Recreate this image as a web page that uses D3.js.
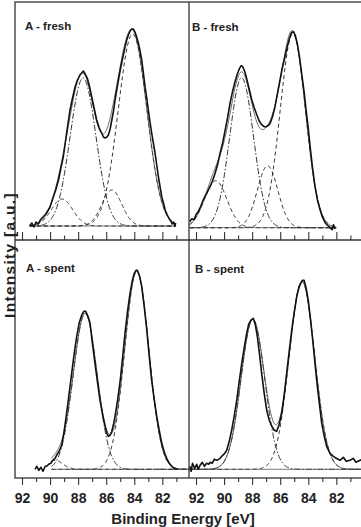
<!DOCTYPE html>
<html>
<head>
<meta charset="utf-8">
<script src="https://cdnjs.cloudflare.com/ajax/libs/d3/7.8.5/d3.min.js"></script>
<style>
body { margin: 0; background: #fff; }
text { font-family: "Liberation Sans", Arial, sans-serif; font-weight: bold; fill: #222; }
</style>
</head>
<body>
<script>
var w = 361;
var h = 527;

var majorTicks = [92, 90, 88, 86, 84, 82];
var minorTicks = [91, 89, 87, 85, 83, 81];
var panelLabels = ["A - fresh", "B - fresh", "A - spent", "B - spent"];
var xTitle = "Binding Energy [eV]";
var yTitle = "Intensity [a.u.]";

// measured spectra: binding energy [eV] and intensity above background [a.u.]
var aFreshE = [91.45, 91.3, 91.15, 91.0, 90.85, 90.7, 90.5, 90.3, 90.0, 89.77, 89.6, 89.4, 89.2, 89.06,
  88.82, 88.58, 88.4, 88.22, 88.05, 87.87, 87.75, 87.63, 87.5, 87.35, 87.2, 87.03, 86.85, 86.68,
  86.5, 86.32, 86.2, 86.08, 85.95, 85.85, 85.72, 85.6, 85.48, 85.37, 85.25, 85.13, 85.0, 84.9,
  84.78, 84.66, 84.54, 84.42, 84.3, 84.18, 84.06, 83.95, 83.83, 83.71, 83.59, 83.47, 83.35, 83.23,
  83.1, 83.0, 82.88, 82.76, 82.64, 82.52, 82.4, 82.28, 82.16, 82.04, 81.9, 81.8, 81.65, 81.5,
  81.4, 81.3, 81.2, 81.1, 81.05];
var aFreshI = [0, 3, -1, 4, 2, 6, 9, 12, 19, 29, 36, 46, 60, 69,
  93, 116, 128, 139, 146, 151, 153, 155, 152, 148, 140, 129, 117, 106,
  98, 93, 89, 88, 89, 91, 97, 106, 115, 126, 136, 146, 156, 163,
  171, 179, 186, 191, 195, 197, 197, 194, 189, 183, 175, 166, 153, 139,
  127, 116, 104, 93, 83, 73, 61, 49, 39, 29, 22, 16, 11, 7,
  5, 2, 4, 0, 3];

var bFreshE = [92.45, 92.3, 92.15, 92.0, 91.85, 91.7, 91.48, 91.25, 91.0, 90.85, 90.65, 90.45, 90.29,
  90.1, 89.93, 89.75, 89.58, 89.4, 89.22, 89.05, 88.91, 88.78, 88.67, 88.52, 88.39, 88.2, 88.03,
  87.85, 87.67, 87.5, 87.32, 87.15, 87.01, 86.87, 86.73, 86.55, 86.37, 86.2, 86.01, 85.85, 85.66,
  85.5, 85.35, 85.2, 85.06, 84.92, 84.78, 84.62, 84.47, 84.3, 84.16, 84.0, 83.87, 83.7, 83.52,
  83.35, 83.16, 83.0, 82.8, 82.6, 82.45, 82.3, 82.2, 82.09];
var bFreshI = [6, 9, 8, 13, 16, 20, 28, 34, 41, 46, 54, 64, 74,
  85, 97, 110, 124, 136, 146, 154, 159, 162, 161, 156, 149, 138, 128,
  120, 113, 107, 103, 101, 101, 102, 104, 111, 121, 134, 148, 160, 171,
  181, 189, 195, 196, 192, 184, 170, 154, 136, 118, 99, 81, 60, 41,
  28, 18, 11, 5, 2, 0, -2, 3, -1];

var aSpentE = [91.07, 90.95, 90.8, 90.65, 90.5, 90.35, 90.24, 90.1, 89.95, 89.8, 89.65, 89.5, 89.35,
  89.17, 89.0, 88.82, 88.64, 88.46, 88.28, 88.1, 87.93, 87.75, 87.6, 87.46, 87.3, 87.15, 87.0,
  86.8, 86.62, 86.44, 86.26, 86.08, 85.95, 85.85, 85.72, 85.6, 85.48, 85.37, 85.18, 85.0, 84.83,
  84.66, 84.48, 84.3, 84.15, 84.0, 83.88, 83.78, 83.62, 83.47, 83.3, 83.11, 82.94, 82.76, 82.58,
  82.4, 82.22, 82.04, 81.86, 81.69, 81.5, 81.33, 81.15, 80.97];
var aSpentI = [0, 3, -1, 2, -2, 3, 3, 5, 6, 9, 11, 15, 18,
  24, 38, 56, 76, 96, 116, 133, 146, 154, 158, 158, 153, 146, 128,
  106, 87, 69, 55, 43, 36, 33, 34, 38, 45, 53, 70, 89, 112,
  136, 158, 176, 188, 196, 199, 199, 193, 183, 164, 140, 114, 89, 70,
  53, 39, 26, 17, 11, 6, 3, 1, 0];

var bSpentE = [92.45, 92.35, 92.25, 92.1, 91.95, 91.85, 91.71, 91.55, 91.4, 91.25, 91.1, 91.0, 90.85,
  90.7, 90.5, 90.29, 90.1, 89.95, 89.81, 89.65, 89.46, 89.28, 89.1, 88.92, 88.74, 88.56, 88.39,
  88.25, 88.1, 87.92, 87.78, 87.63, 87.48, 87.32, 87.15, 86.96, 86.78, 86.6, 86.42, 86.25, 86.07,
  85.89, 85.72, 85.54, 85.36, 85.18, 85.0, 84.82, 84.68, 84.54, 84.42, 84.3, 84.15, 84.0, 83.84,
  83.68, 83.54, 83.4, 83.22, 83.04, 82.86, 82.69, 82.45, 82.21, 82.0, 81.74, 81.5, 81.3, 81.02,
  80.8, 80.6, 80.3, 80.15];
var bSpentI = [3, -2, 6, 1, 5, 0, 4, 7, 3, 6, 5, 7, 6,
  10, 9, 11, 14, 16, 19, 27, 39, 53, 69, 88, 106, 122, 136,
  145, 149, 151, 145, 133, 116, 96, 77, 59, 49, 43, 39, 38, 45,
  56, 74, 96, 118, 139, 157, 173, 181, 186, 189, 189, 181, 169, 150,
  129, 109, 89, 67, 46, 33, 23, 16, 13, 11, 9, 12, 8, 9,
  11, 7, 9, 10];

// fitted components: centre [eV], height [a.u.], sigma [eV], assignment
var aFreshCentre = [89.15, 87.65, 85.6, 84.12];
var aFreshHeight = [27, 148, 36, 192];
var aFreshSigma = [0.76, 0.92, 0.71, 1.02];
var aFreshPeak = ["4f5/2 (ii)", "4f5/2", "4f7/2 (ii)", "4f7/2"];
var aFreshBackground = 1;
var aFreshFitRange = [91.45, 81.05];

var bFreshCentre = [90.6, 88.75, 86.9, 85.1];
var bFreshHeight = [47, 150, 62, 194];
var bFreshSigma = [0.8, 0.85, 0.73, 0.9];
var bFreshPeak = ["4f5/2 (ii)", "4f5/2", "4f7/2 (ii)", "4f7/2"];
var bFreshBackground = -0.7;
var bFreshFitRange = [92.45, 82.0];

var aSpentCentre = [89.65, 87.5, 83.82];
var aSpentHeight = [9, 156, 198];
var aSpentSigma = [0.55, 0.85, 0.86];
var aSpentPeak = ["4f5/2 (ii)", "4f5/2", "4f7/2"];
var aSpentBackground = 0;
var aSpentFitRange = [89.9, 80.1];

var bSpentCentre = [87.95, 84.45];
var bSpentHeight = [150, 188];
var bSpentSigma = [0.84, 0.9];
var bSpentPeak = ["4f5/2", "4f7/2"];
var bSpentBackground = 0;
var bSpentFitRange = [92.45, 80.1];

// layout
var frame = {left: 15, mid: 189, right: 363, top: 2, split: 240, bottom: 478};
var eDomain = [92.5, 80.1];

var svg = d3.select("body")
  .append("svg")
  .attr("width", w)
  .attr("height", h);

var yTopRow = d3.scaleLinear().domain([-13, 225]).range([frame.split, frame.top]);
var yBottomRow = d3.scaleLinear().domain([-8.7, 229.3]).range([frame.bottom, frame.split]);
var xLeft = d3.scaleLinear().domain(eDomain).range([frame.left, frame.mid]);
var xRight = d3.scaleLinear().domain(eDomain).range([frame.mid, frame.right]);

var panels = [
  {label: panelLabels[0], E: aFreshE, I: aFreshI, c: aFreshCentre, a: aFreshHeight, s: aFreshSigma,
   p: aFreshPeak, bg: aFreshBackground, fit: aFreshFitRange, x: xLeft, y: yTopRow, lx: 25, ly: 29.5},
  {label: panelLabels[1], E: bFreshE, I: bFreshI, c: bFreshCentre, a: bFreshHeight, s: bFreshSigma,
   p: bFreshPeak, bg: bFreshBackground, fit: bFreshFitRange, x: xRight, y: yTopRow, lx: 192, ly: 31},
  {label: panelLabels[2], E: aSpentE, I: aSpentI, c: aSpentCentre, a: aSpentHeight, s: aSpentSigma,
   p: aSpentPeak, bg: aSpentBackground, fit: aSpentFitRange, x: xLeft, y: yBottomRow, lx: 26, ly: 272},
  {label: panelLabels[3], E: bSpentE, I: bSpentI, c: bSpentCentre, a: bSpentHeight, s: bSpentSigma,
   p: bSpentPeak, bg: bSpentBackground, fit: bSpentFitRange, x: xRight, y: yBottomRow, lx: 195, ly: 272.5}
];

function gauss(e, c, a, s) {
  return a * Math.exp(-(e - c) * (e - c) / (2 * s * s));
}

panels.forEach(function(pn) {
  var g = svg.append("g");
  var grid = d3.range(pn.fit[0], pn.fit[1] - 0.001, -0.04);
  var line = d3.line()
    .x(function(d) { return pn.x(d[0]); })
    .y(function(d) { return pn.y(d[1]); });

  // background
  g.append("path")
    .attr("d", line([[pn.fit[0], pn.bg], [pn.fit[1], pn.bg]]))
    .attr("fill", "none")
    .attr("stroke", "#555")
    .attr("stroke-width", 0.8);

  // components
  pn.c.forEach(function(c, k) {
    g.append("path")
      .attr("d", line(grid.map(function(e) { return [e, pn.bg + gauss(e, c, pn.a[k], pn.s[k])]; })))
      .attr("fill", "none")
      .attr("stroke", "#333")
      .attr("stroke-width", 1)
      .attr("stroke-dasharray", pn.p[k] === "4f5/2" ? "6,2,1.5,2" : "4,3");
  });

  // envelope
  g.append("path")
    .attr("d", line(grid.map(function(e) {
      var sum = pn.bg;
      pn.c.forEach(function(c, k) { sum += gauss(e, c, pn.a[k], pn.s[k]); });
      return [e, sum];
    })))
    .attr("fill", "none")
    .attr("stroke", "#444")
    .attr("stroke-width", 0.8);

  // measured
  g.append("path")
    .attr("d", line(pn.E.map(function(e, i) { return [e, pn.I[i] + pn.bg]; })))
    .attr("fill", "none")
    .attr("stroke", "#111")
    .attr("stroke-width", 1.6)
    .attr("stroke-linejoin", "round");

  g.append("text")
    .attr("x", pn.lx)
    .attr("y", pn.ly)
    .attr("font-size", "11.5px")
    .text(pn.label);
});

// ticks
function styleAxis(sel) {
  sel.select(".domain").remove();
  sel.selectAll("line").attr("stroke", "#333").attr("stroke-width", 1.1);
}

[xLeft, xRight].forEach(function(x) {
  svg.append("g")
    .attr("transform", "translate(0," + frame.split + ")")
    .call(d3.axisTop(x).tickValues(majorTicks).tickSize(8).tickFormat(""))
    .call(styleAxis);
  svg.append("g")
    .attr("transform", "translate(0," + frame.split + ")")
    .call(d3.axisTop(x).tickValues(minorTicks).tickSize(4.5).tickFormat(""))
    .call(styleAxis);
  svg.append("g")
    .attr("transform", "translate(0," + frame.bottom + ")")
    .call(d3.axisBottom(x).tickValues(minorTicks).tickSize(4).tickFormat(""))
    .call(styleAxis);
  var ax = svg.append("g")
    .attr("transform", "translate(0," + frame.bottom + ")")
    .call(d3.axisBottom(x).tickValues(majorTicks).tickSize(7).tickPadding(8).tickFormat(d3.format("d")))
    .call(styleAxis);
  ax.attr("font-family", null).attr("font-size", null);
  ax.selectAll("text").attr("font-size", "14px").attr("fill", "#222");
});

// frame
var fr = svg.append("g")
  .attr("fill", "none")
  .attr("stroke", "#333")
  .attr("stroke-width", 1.3);
fr.append("rect")
  .attr("x", frame.left)
  .attr("y", frame.top)
  .attr("width", frame.right - frame.left)
  .attr("height", frame.bottom - frame.top);
fr.append("line")
  .attr("x1", frame.mid).attr("x2", frame.mid)
  .attr("y1", frame.top).attr("y2", frame.bottom);
fr.append("line")
  .attr("x1", frame.left).attr("x2", frame.right)
  .attr("y1", frame.split).attr("y2", frame.split);

svg.append("text")
  .attr("x", 183)
  .attr("y", 524)
  .attr("text-anchor", "middle")
  .attr("font-size", "15px")
  .text(xTitle);

svg.append("text")
  .attr("transform", "translate(14.6,255) rotate(-90)")
  .attr("text-anchor", "middle")
  .attr("font-size", "15.5px")
  .attr("letter-spacing", "1.3px")
  .text(yTitle);
</script>
</body>
</html>
